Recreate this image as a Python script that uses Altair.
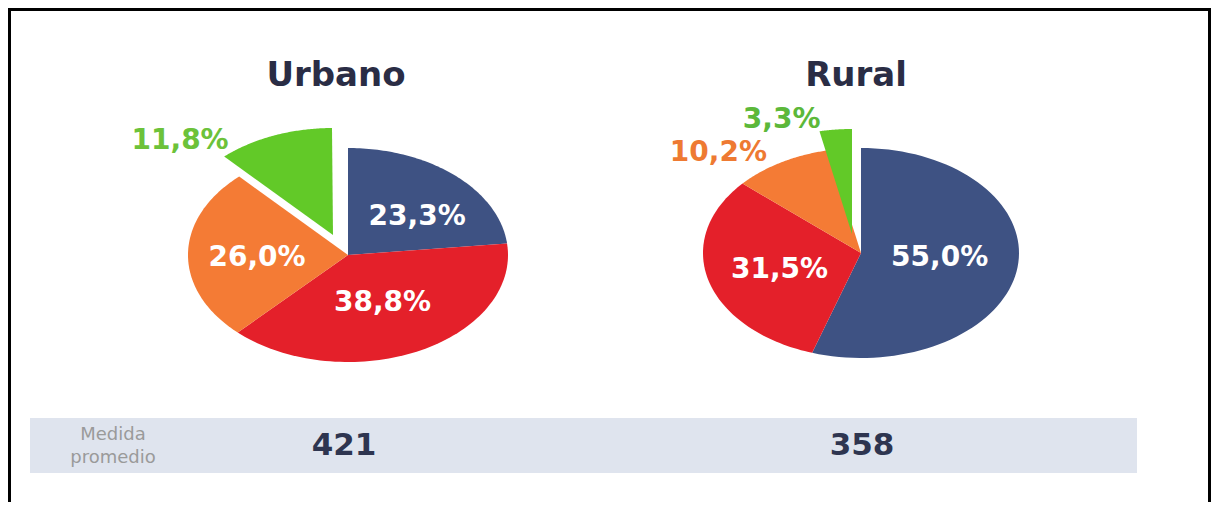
import altair as alt
import pandas as pd

# ---------------- data ----------------
groups = ["Urbano", "Rural"]
segments = ["Segmento 1", "Segmento 2", "Segmento 3", "Segmento 4"]
urbano_pct = [23.3, 38.8, 26.0, 11.8]
rural_pct = [55.0, 31.5, 10.2, 3.3]
medida_label = ["Medida", "promedio"]
medida_promedio = [421, 358]

# ---------------- layout / style ----------------
W, H = 1203, 494
seg_colors = ["#3e5283", "#e4202a", "#f47b35", "#62c928"]
pie_geom = {  # centre and radii in page pixels
    "Urbano": dict(cx=348, cy=255, rx=160, ry=107, tx=336),
    "Rural": dict(cx=861, cy=253, rx=158, ry=105, tx=856),
}
explode = {("Urbano", 3): (-15, -20), ("Rural", 3): (-9, -19)}
label_style = {  # (radial factor, nudge x, nudge y, colour)
    ("Urbano", 0): (0.6, 5, 10, "white"),
    ("Urbano", 1): (0.6, -8, -10, "white"),
    ("Urbano", 2): (0.6, 5, 3, "white"),
    ("Urbano", 3): (1.0, -94, 5, "#6cc23a"),
    ("Rural", 0): (0.6, -15, -5, "white"),
    ("Rural", 1): (0.6, 10, 0, "white"),
    ("Rural", 2): (1.0, -63, -9, "#ee7a32"),
    ("Rural", 3): (1.0, -54, -10, "#5cb83a"),
}
N = 80

rows = []
for g, vals in zip(groups, [urbano_pct, rural_pct]):
    geo = pie_geom[g]
    for i, (s, v) in enumerate(zip(segments, vals)):
        ex, ey = explode.get((g, i), (0, 0))
        lf, ndx, ndy, lc = label_style[(g, i)]
        rows.append(dict(group=g, seg=s, order=i, value=v,
                         cx=geo["cx"], cy=geo["cy"], rx=geo["rx"], ry=geo["ry"],
                         ex=ex, ey=ey, lf=lf, ndx=ndx, ndy=ndy, lcolor=lc))
df = pd.DataFrame(rows)

xs = alt.Scale(domain=[8, 8 + W], nice=False, zero=False)
ys = alt.Scale(domain=[8, 8 + H], nice=False, zero=False, reverse=True)

base = alt.Chart(df).transform_window(
    cum="sum(value)", groupby=["group"], sort=[alt.SortField("order")], frame=[None, 0]
).transform_calculate(
    a0="(datum.cum - datum.value) / 100 * 2 * PI"
).transform_calculate(
    a1="datum.cum / 100 * 2 * PI"
)

pie = base.transform_calculate(
    k=f"sequence(0, {N + 1})"
).transform_flatten(["k"]).transform_calculate(
    t=f"datum.a0 + (datum.a1 - datum.a0) * (datum.k - 1) / {N - 1}"
).transform_calculate(
    px="datum.k == 0 ? datum.cx + datum.ex : datum.cx + datum.ex + datum.rx * sin(datum.t)"
).transform_calculate(
    py="datum.k == 0 ? datum.cy + datum.ey : datum.cy + datum.ey - datum.ry * cos(datum.t)"
).mark_line(filled=True, strokeWidth=0, interpolate="linear").encode(
    x=alt.X("px:Q", scale=xs, axis=None),
    y=alt.Y("py:Q", scale=ys, axis=None),
    color=alt.Color("seg:N", scale=alt.Scale(domain=segments, range=seg_colors), legend=None),
    detail="group:N",
    order=alt.Order("k:Q"),
)

labels = base.transform_calculate(
    mid="(datum.a0 + datum.a1) / 2"
).transform_calculate(
    lx="datum.cx + datum.ex + datum.lf * datum.rx * sin(datum.mid) + datum.ndx",
    ly="datum.cy + datum.ey - datum.lf * datum.ry * cos(datum.mid) + datum.ndy",
    txt="replace(format(datum.value, '.1f'), '.', ',') + '%'",
).mark_text(font="DejaVu Sans", fontWeight="bold", fontSize=28, align="center", baseline="middle").encode(
    x=alt.X("lx:Q", scale=xs, axis=None),
    y=alt.Y("ly:Q", scale=ys, axis=None),
    text="txt:N",
    color=alt.Color("lcolor:N", scale=None),
)

titles_df = pd.DataFrame(dict(group=groups, tx=[pie_geom[g]["tx"] for g in groups], ty=[76, 76]))
titles = alt.Chart(titles_df).mark_text(
    font="DejaVu Sans", fontWeight="bold", fontSize=34, color="#2a2d45", align="center", baseline="middle"
).encode(
    x=alt.X("tx:Q", scale=xs, axis=None),
    y=alt.Y("ty:Q", scale=ys, axis=None),
    text="group:N",
)

band_df = pd.DataFrame(dict(x=[30], x2=[1137], y=[418], y2=[473]))
band = alt.Chart(band_df).mark_rect(color="#dfe4ee").encode(
    x=alt.X("x:Q", scale=xs, axis=None), x2="x2:Q",
    y=alt.Y("y:Q", scale=ys, axis=None), y2="y2:Q",
)

med_lab_df = pd.DataFrame(dict(t=medida_label, x=[113, 113], y=[435, 458]))
med_lab = alt.Chart(med_lab_df).mark_text(
    font="DejaVu Sans", fontSize=18, color="#9a9a9a", align="center", baseline="middle"
).encode(
    x=alt.X("x:Q", scale=xs, axis=None),
    y=alt.Y("y:Q", scale=ys, axis=None),
    text="t:N",
)

med_df = pd.DataFrame(dict(group=groups, v=medida_promedio, x=[344, 862], y=[446, 446]))
med = alt.Chart(med_df).mark_text(
    font="DejaVu Sans", fontWeight="bold", fontSize=31, color="#2e3550", align="center", baseline="middle"
).encode(
    x=alt.X("x:Q", scale=xs, axis=None),
    y=alt.Y("y:Q", scale=ys, axis=None),
    text="v:Q",
)

frame_top = alt.Chart(band_df).mark_rule(color="black", strokeWidth=3).encode(
    x=alt.value(0), x2=alt.value(W), y=alt.value(1.5))
frame_left = alt.Chart(band_df).mark_rule(color="black", strokeWidth=3).encode(
    x=alt.value(1.5), y=alt.value(0), y2=alt.value(H))
frame_right = alt.Chart(band_df).mark_rule(color="black", strokeWidth=3).encode(
    x=alt.value(W - 1.5), y=alt.value(0), y2=alt.value(H))

chart = alt.layer(band, pie, labels, titles, med_lab, med, frame_top, frame_left, frame_right).properties(
    width=W, height=H, padding=0, autosize=alt.AutoSizeParams(type="none"),
    background="white",
).configure_view(stroke=None)

chart.save("out.html", embed_options={"renderer": "svg", "actions": False})
